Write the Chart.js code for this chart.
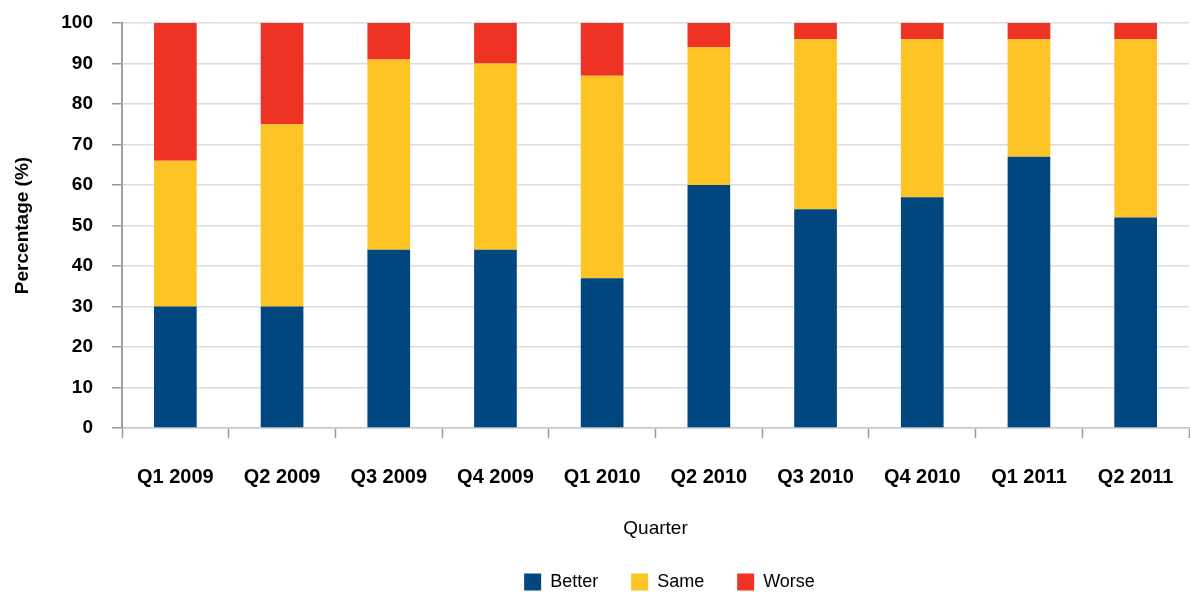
<!DOCTYPE html>
<html>
<head>
<meta charset="utf-8">
<script src="https://cdn.jsdelivr.net/npm/chart.js@4/dist/chart.umd.min.js"></script>
<style>
  html, body { margin: 0; padding: 0; background: #fff; }
  #wrap { width: 1190px; height: 592px; }
</style>
</head>
<body>
<div id="wrap"><canvas id="chart" width="1190" height="592"></canvas></div>
<script>
// quarters on the x axis
const quarters = ["Q1 2009", "Q2 2009", "Q3 2009", "Q4 2009", "Q1 2010",
                  "Q2 2010", "Q3 2010", "Q4 2010", "Q1 2011", "Q2 2011"];

// share of answers per quarter (%)
const better = [30, 30, 44, 44, 37, 60, 54, 57, 67, 52];
const same   = [36, 45, 47, 46, 50, 34, 42, 39, 29, 44];
const worse  = [34, 25,  9, 10, 13,  6,  4,  4,  4,  4];

const yTicks = [0, 10, 20, 30, 40, 50, 60, 70, 80, 90, 100];

const FONT = "'Liberation Sans', Arial, sans-serif";

// legend sits under the plot centre, not the canvas centre
const legendShift = {
  id: "legendShift",
  afterLayout(chart) {
    const lg = chart.legend;
    if (!lg) return;
    lg.left += 75;
    lg.right += 75;
  }
};

new Chart(document.getElementById("chart"), {
  type: "bar",
  data: {
    labels: quarters,
    datasets: [
      { label: "Better", data: better, backgroundColor: "#00467f" },
      { label: "Same",   data: same,   backgroundColor: "#fec325" },
      { label: "Worse",  data: worse,  backgroundColor: "#ee3224" }
    ]
  },
  plugins: [legendShift],
  options: {
    responsive: false,
    animation: false,
    layout: { padding: { top: 23, right: 1, left: 0, bottom: -9 } },
    datasets: {
      bar: { categoryPercentage: 1, barPercentage: 0.4 }
    },
    plugins: {
      tooltip: { enabled: false },
      legend: {
        position: "bottom",
        labels: {
          boxWidth: 17,
          boxHeight: 17,
          padding: 33,
          color: "#000",
          font: { family: FONT, size: 18 }
        }
      }
    },
    scales: {
      x: {
        stacked: true,
        afterFit: s => { s.height = 112; s.paddingLeft = 0; s.paddingRight = 0; },
        grid: { drawOnChartArea: false, tickLength: 10, tickColor: "#999", tickWidth: 1.5 },
        border: { color: "#c8c8c8", width: 1.5 },
        ticks: { color: "#000", padding: 27, font: { family: FONT, size: 20, weight: "bold" } },
        title: {
          display: true,
          text: "Quarter",
          color: "#000",
          padding: { top: 0, bottom: 0 },
          font: { family: FONT, size: 19 }
        }
      },
      y: {
        stacked: true,
        min: 0,
        max: 100,
        afterBuildTicks: s => { s.ticks = yTicks.map(v => ({ value: v })); },
        afterFit: s => { s.width = 122; s.paddingTop = 0; s.paddingBottom = 0; },
        grid: { color: "#dcdcdc", lineWidth: 1.5, tickLength: 10, tickColor: "#999" },
        border: { color: "#a0a0a0", width: 2 },
        ticks: { color: "#000", padding: 19, font: { family: FONT, size: 19, weight: "bold" } },
        title: {
          display: true,
          text: "Percentage (%)",
          color: "#000",
          padding: { top: 11, bottom: 0 },
          font: { family: FONT, size: 19, weight: "bold" }
        }
      }
    }
  }
});
</script>
</body>
</html>
